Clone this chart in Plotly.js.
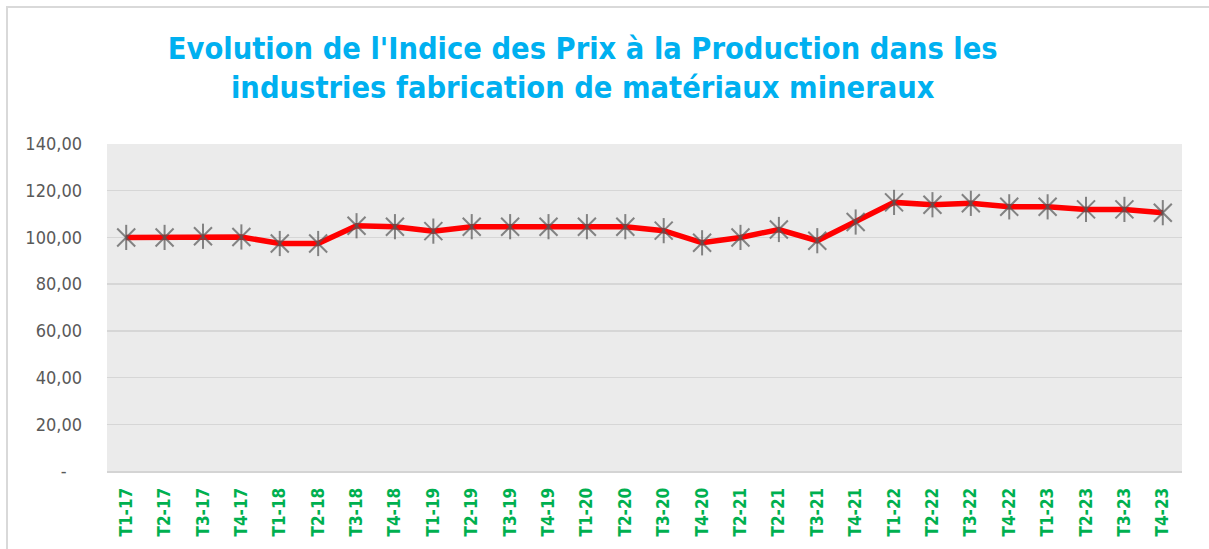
<!DOCTYPE html>
<html>
<head>
<meta charset="utf-8">
<script src="https://cdn.plot.ly/plotly-3.0.1.min.js"></script>
<style>
  html, body { margin: 0; padding: 0; background: #ffffff; }
  #wrap { position: relative; width: 1209px; height: 549px; overflow: hidden; }
  #frame { position: absolute; left: 6px; top: 6px; width: 1220px; height: 560px;
           border-left: 2px solid #d9d9d9; border-top: 2px solid #d9d9d9; pointer-events: none; }
  #chart { position: absolute; left: 0; top: 0; width: 1209px; height: 549px; }
</style>
</head>
<body>
<div id="wrap">
  <div id="chart"></div>
  <div id="frame"></div>
</div>
<script>
const categories = ["T1-17","T2-17","T3-17","T4-17","T1-18","T2-18","T3-18","T4-18",
  "T1-19","T2-19","T3-19","T4-19","T1-20","T2-20","T3-20","T4-20",
  "T2-21","T2-21","T3-21","T4-21","T1-22","T2-22","T3-22","T4-22",
  "T1-23","T2-23","T3-23","T4-23"];
const ipp = [100.0,100.0,100.5,100.2,97.4,97.4,105.0,104.6,
  102.7,104.6,104.6,104.6,104.6,104.6,102.9,97.7,
  100.0,103.4,98.6,106.6,115.0,114.0,114.6,113.1,
  113.1,112.0,112.0,110.6];
const yTickVals = [0,20,40,60,80,100,120,140];
const yTickText = ["-\u00a0\u00a0\u00a0","20,00","40,00","60,00","80,00","100,00","120,00","140,00"];
const titleText = "Evolution de l'Indice des Prix à la Production dans les<br>industries fabrication de matériaux mineraux";

const xIdx = categories.map((_, i) => i);
const narrow = '"Liberation Sans Narrow", "DejaVu Sans Condensed", "Arial Narrow", sans-serif';
const markerColor = 'rgba(85,85,85,0.7)';

const traces = [
  { x: xIdx, y: ipp, type: 'scatter', mode: 'lines',
    line: { color: '#ff0000', width: 5.5 }, hoverinfo: 'skip', showlegend: false },
  { x: xIdx, y: ipp, type: 'scatter', mode: 'markers',
    marker: { symbol: 'x-thin-open', size: 18, color: markerColor, line: { color: markerColor, width: 2 } },
    showlegend: false },
  { x: xIdx, y: ipp, type: 'scatter', mode: 'markers',
    marker: { symbol: 'line-ns-open', size: 18, color: markerColor, line: { color: markerColor, width: 2 } },
    showlegend: false }
];

const layout = {
  width: 1209, height: 549,
  margin: { l: 107, r: 27, t: 144, b: 78 },
  paper_bgcolor: 'rgba(0,0,0,0)',
  plot_bgcolor: '#ebebeb',
  showlegend: false,
  title: {
    text: titleText,
    font: { family: narrow, size: 30.5, color: '#00b0f0', weight: 'bold' },
    x: 0.482, xanchor: 'center', xref: 'container',
    y: 0.893, yanchor: 'top', yref: 'container'
  },
  xaxis: {
    range: [-0.5, categories.length - 0.5],
    tickmode: 'array', tickvals: xIdx, ticktext: categories,
    tickangle: -90, ticks: '', showgrid: false, zeroline: false,
    showline: true, linecolor: '#d4d4d4', linewidth: 2,
    ticklabelstandoff: 8,
    tickfont: { family: narrow, size: 17, color: '#00b050', weight: 'bold' }
  },
  yaxis: {
    range: [0, 140],
    tickmode: 'array', tickvals: yTickVals, ticktext: yTickText,
    ticks: '', showgrid: true, gridcolor: '#d6d6d6', gridwidth: 1.5,
    zeroline: false, showline: false,
    ticklabelstandoff: 24,
    tickfont: { family: narrow, size: 18, color: '#595959' }
  }
};

Plotly.newPlot('chart', traces, layout, { displayModeBar: false, staticPlot: true });
</script>
</body>
</html>
